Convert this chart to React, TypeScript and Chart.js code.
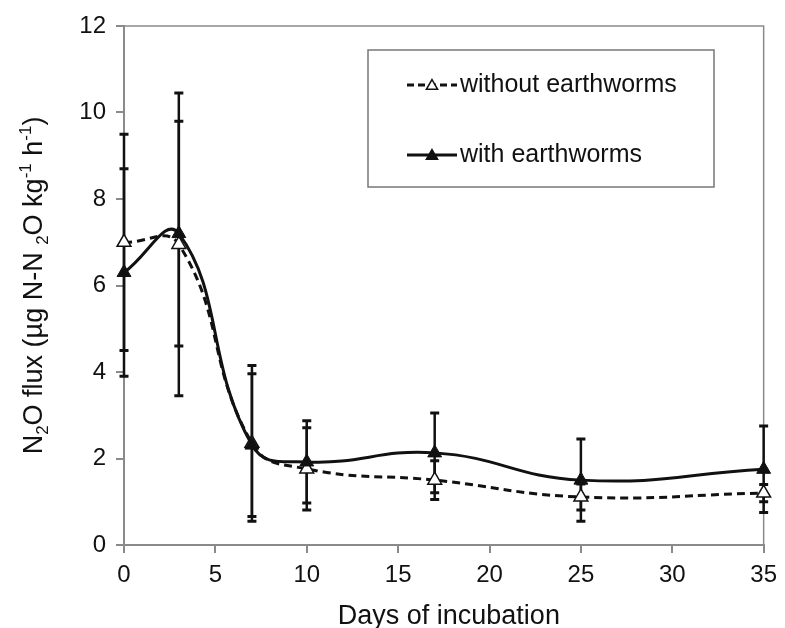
import React, { useEffect, useRef } from "react";
import { Chart, registerables } from "chart.js";

Chart.register(...registerables);

// Incubation days at which N2O flux was sampled
const days = [0, 3, 7, 10, 17, 25, 35];

// Mean N2O flux and error (± bar half-length) for each treatment
const fluxWithout = [7.0, 6.95, 2.35, 1.76, 1.5, 1.11, 1.2];
const errWithout = [2.5, 3.5, 1.8, 0.95, 0.45, 0.3, 0.2];
const fluxWith = [6.3, 7.2, 2.31, 1.92, 2.13, 1.5, 1.75];
const errWith = [2.4, 2.6, 1.65, 0.95, 0.92, 0.95, 1.0];

const seriesNames = ["without earthworms", "with earthworms"];
const xTitle = "Days of incubation";
const yTitleParts: [string, "n" | "sub" | "sup"][] = [
  ["N", "n"],
  ["2", "sub"],
  ["O flux (µg N-N ", "n"],
  ["2", "sub"],
  ["O kg", "n"],
  ["-1", "sup"],
  [" h", "n"],
  ["-1", "sup"],
  [")", "n"],
];

const FONT = "'Liberation Sans', Arial, sans-serif";
const INK = "#111";
const AXIS = "#8a8a8a";

function drawTriangle(ctx: CanvasRenderingContext2D, cx: number, cy: number, r: number, filled: boolean) {
  const h = r * 1.5;
  const half = r * Math.sin(Math.PI / 3);
  ctx.beginPath();
  ctx.moveTo(cx, cy - r);
  ctx.lineTo(cx + half, cy - r + h);
  ctx.lineTo(cx - half, cy - r + h);
  ctx.closePath();
  ctx.fillStyle = filled ? INK : "#fff";
  ctx.fill();
  ctx.lineWidth = 1.5;
  ctx.strokeStyle = INK;
  ctx.setLineDash([]);
  ctx.stroke();
}

// Vertical error bars with caps, painted beneath lines and markers
const errorBars = {
  id: "errorBars",
  beforeDatasetsDraw(chart: any) {
    const { ctx, scales } = chart;
    const x = scales.x;
    const y = scales.y;
    ctx.save();
    ctx.strokeStyle = INK;
    chart.data.datasets.forEach((ds: any) => {
      const errs: number[] = ds.errors;
      ds.data.forEach((pt: { x: number; y: number }, i: number) => {
        const px = x.getPixelForValue(pt.x);
        const top = y.getPixelForValue(pt.y + errs[i]);
        const bot = y.getPixelForValue(pt.y - errs[i]);
        ctx.lineWidth = 2.5;
        ctx.beginPath();
        ctx.moveTo(px, top);
        ctx.lineTo(px, bot);
        ctx.stroke();
        ctx.lineWidth = 3;
        ctx.beginPath();
        ctx.moveTo(px - 4.5, top);
        ctx.lineTo(px + 4.5, top);
        ctx.moveTo(px - 4.5, bot);
        ctx.lineTo(px + 4.5, bot);
        ctx.stroke();
      });
    });
    ctx.restore();
  },
};

// Top and right edges of the plot frame
const plotFrame = {
  id: "plotFrame",
  beforeDatasetsDraw(chart: any) {
    const { ctx, chartArea: a } = chart;
    ctx.save();
    ctx.strokeStyle = AXIS;
    ctx.lineWidth = 1.5;
    ctx.beginPath();
    ctx.moveTo(a.left, a.top);
    ctx.lineTo(a.right, a.top);
    ctx.lineTo(a.right, a.bottom);
    ctx.stroke();
    ctx.restore();
  },
};

// Boxed legend inside the plot and the two axis titles
const annotations = {
  id: "annotations",
  afterDraw(chart: any) {
    const { ctx, chartArea: a } = chart;
    ctx.save();

    // legend box
    const bx = a.left + 244;
    const by = a.top + 24;
    const bw = 346;
    const bh = 137;
    ctx.fillStyle = "#fff";
    ctx.fillRect(bx, by, bw, bh);
    ctx.strokeStyle = "#777";
    ctx.lineWidth = 1.5;
    ctx.strokeRect(bx, by, bw, bh);

    const rows = [by + 35, by + 105];
    const sx0 = bx + 39;
    const sx1 = bx + 89;
    rows.forEach((ry, k) => {
      ctx.strokeStyle = INK;
      ctx.lineWidth = 3;
      ctx.setLineDash(k === 0 ? [7, 4] : []);
      ctx.beginPath();
      ctx.moveTo(sx0, ry);
      ctx.lineTo(sx1, ry);
      ctx.stroke();
      drawTriangle(ctx, (sx0 + sx1) / 2, ry + 1, 6.5, k === 1);
      ctx.fillStyle = INK;
      ctx.font = `25px ${FONT}`;
      ctx.textAlign = "left";
      ctx.textBaseline = "middle";
      ctx.fillText(seriesNames[k], sx1 + 3, ry);
    });

    // x-axis title
    ctx.fillStyle = INK;
    ctx.font = `27px ${FONT}`;
    ctx.textAlign = "center";
    ctx.textBaseline = "middle";
    ctx.fillText(xTitle, (a.left + a.right) / 2 + 5, 617);

    // y-axis title with sub/superscripts
    const base = 27;
    const small = 17;
    const fontFor = (k: string) => `${k === "n" ? base : small}px ${FONT}`;
    let total = 0;
    yTitleParts.forEach(([t, k]) => {
      ctx.font = fontFor(k);
      total += ctx.measureText(t).width;
    });
    ctx.translate(32, (a.top + a.bottom) / 2);
    ctx.rotate(-Math.PI / 2);
    ctx.textAlign = "left";
    ctx.textBaseline = "alphabetic";
    let cx = -total / 2;
    const baseline = base * 0.36;
    yTitleParts.forEach(([t, k]) => {
      ctx.font = fontFor(k);
      const dy = k === "sub" ? base * 0.22 : k === "sup" ? -base * 0.4 : 0;
      ctx.fillText(t, cx, baseline + dy);
      cx += ctx.measureText(t).width;
    });

    ctx.restore();
  },
};

export default function App() {
  const ref = useRef<HTMLCanvasElement | null>(null);

  useEffect(() => {
    if (!ref.current) return;
    const tickFont = { family: FONT, size: 24 };
    const chart = new Chart(ref.current, {
      type: "line",
      data: {
        datasets: [
          {
            label: seriesNames[0],
            data: days.map((d, i) => ({ x: d, y: fluxWithout[i] })),
            errors: errWithout,
            order: 1,
            clip: false,
            borderColor: INK,
            borderWidth: 3,
            borderDash: [8, 5],
            tension: 0.45,
            pointStyle: "triangle",
            pointRadius: 8,
            pointBackgroundColor: "#fff",
            pointBorderColor: INK,
            pointBorderWidth: 1.5,
          } as any,
          {
            label: seriesNames[1],
            data: days.map((d, i) => ({ x: d, y: fluxWith[i] })),
            errors: errWith,
            order: 0,
            clip: false,
            borderColor: INK,
            borderWidth: 3,
            tension: 0.45,
            pointStyle: "triangle",
            pointRadius: 8,
            pointBackgroundColor: INK,
            pointBorderColor: INK,
            pointBorderWidth: 1,
          } as any,
        ],
      },
      options: {
        responsive: false,
        animation: false,
        events: [],
        layout: { padding: { top: 26, right: 16, left: 0, bottom: 0 } },
        plugins: { legend: { display: false }, tooltip: { enabled: false } },
        scales: {
          x: {
            type: "linear",
            min: 0,
            max: 35,
            ticks: { stepSize: 5, color: INK, font: tickFont, padding: 8, maxRotation: 0 },
            grid: { drawOnChartArea: false, tickLength: 8, color: AXIS, lineWidth: 2 },
            border: { color: AXIS, width: 2 },
            afterFit: (s: any) => {
              s.height = 83;
            },
          },
          y: {
            min: 0,
            max: 12,
            ticks: { stepSize: 2, color: INK, font: tickFont, padding: 10 },
            grid: { drawOnChartArea: false, tickLength: 8, color: AXIS, lineWidth: 2 },
            border: { color: AXIS, width: 2 },
            afterFit: (s: any) => {
              s.width = 124;
            },
          },
        },
      },
      plugins: [plotFrame, errorBars, annotations],
    });
    return () => chart.destroy();
  }, []);

  return (
    <div style={{ position: "absolute", left: 0, top: 0, width: 785, height: 628, background: "#fff" }}>
      <canvas ref={ref} width={785} height={628} />
    </div>
  );
}
